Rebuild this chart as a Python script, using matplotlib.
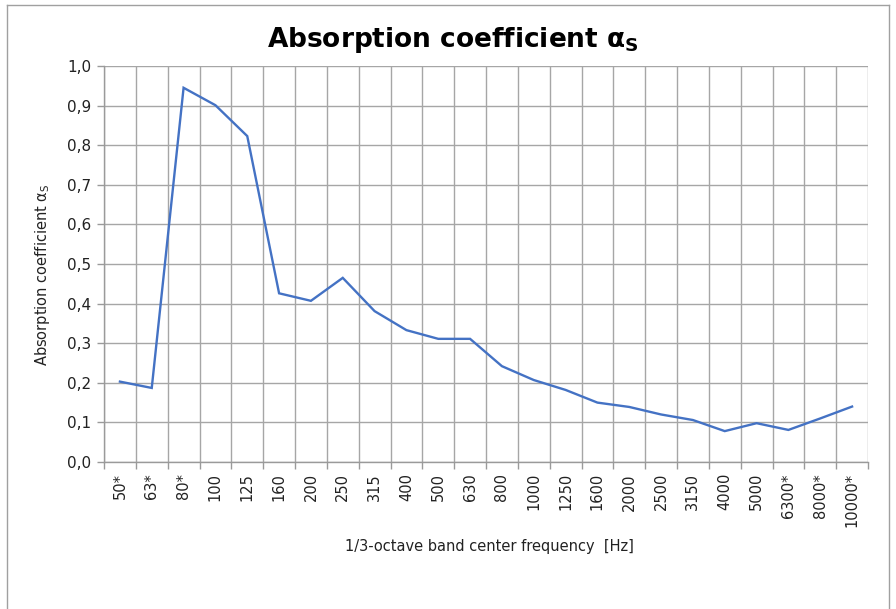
import matplotlib.pyplot as plt
from matplotlib.lines import Line2D
from matplotlib.ticker import FuncFormatter, MultipleLocator

# 1/3-octave band centre frequencies (* = outside standard range)
bands = ["50*", "63*", "80*", "100", "125", "160", "200", "250", "315", "400",
         "500", "630", "800", "1000", "1250", "1600", "2000", "2500", "3150",
         "4000", "5000", "6300*", "8000*", "10000*"]
alpha_s = [0.203, 0.187, 0.945, 0.901, 0.823, 0.426, 0.407, 0.465, 0.381, 0.333,
           0.311, 0.311, 0.242, 0.207, 0.182, 0.150, 0.139, 0.120, 0.106,
           0.078, 0.098, 0.081, 0.110, 0.140]

plt.rcParams["font.family"] = ["DejaVu Sans"]

fig = plt.figure(figsize=(8.96, 6.09), dpi=100)
W, H = 896, 609
ax = fig.add_axes([104 / W, 1 - 462 / H, (868 - 104) / W, (462 - 66) / H])

x = list(range(len(bands)))
ax.plot(x, alpha_s, color="#4472C4", linewidth=1.7, solid_joinstyle="miter")

ax.set_xlim(-0.5, len(bands) - 0.5)
ax.set_ylim(0, 1.0)
ax.yaxis.set_major_locator(MultipleLocator(0.1))
ax.yaxis.set_major_formatter(FuncFormatter(lambda v, _: f"{v:.1f}".replace(".", ",")))

# category labels at centres, grid/ticks at boundaries
ax.set_xticks(x)
ax.set_xticklabels(bands, rotation=90, fontsize=10.5, color="#222222")
ax.set_xticks([i - 0.5 for i in range(len(bands) + 1)], minor=True)
ax.tick_params(axis="x", which="major", length=0, pad=8)
ax.tick_params(axis="x", which="minor", length=5, color="#9a9a9a", width=1)
ax.tick_params(axis="y", length=5, color="#9a9a9a", width=1, labelsize=11,
               labelcolor="#222222", pad=4)
ax.grid(True, which="minor", axis="x", color="#a6a6a6", linewidth=1)
ax.grid(True, which="major", axis="y", color="#a6a6a6", linewidth=1)
ax.set_axisbelow(True)

for side in ("top", "right"):
    ax.spines[side].set_visible(False)
for side in ("left", "bottom"):
    ax.spines[side].set_color("#9a9a9a")
    ax.spines[side].set_linewidth(1)

fig.text(453 / W, 1 - 40 / H, r"Absorption coefficient α$_\mathregular{S}$",
         ha="center", va="center", fontsize=19, fontweight="bold")
fig.text(43 / W, 1 - 275 / H, r"Absorption coefficient α$_\mathregular{S}$",
         ha="center", va="center", rotation=90, fontsize=10.5, color="#222222")
fig.text(489 / W, 1 - 546 / H, "1/3-octave band center frequency  [Hz]",
         ha="center", va="center", fontsize=10.5, color="#222222")

# outer chart-area border
bx0, bx1, by0 = 7 / W, 889 / W, 1 - 5 / H
for xs, ys in [((bx0, bx1), (by0, by0)), ((bx0, bx0), (0, by0)), ((bx1, bx1), (0, by0))]:
    fig.add_artist(Line2D(xs, ys, color="#a0a0a0", linewidth=1, transform=fig.transFigure))

fig.savefig("out.png", dpi=100)
